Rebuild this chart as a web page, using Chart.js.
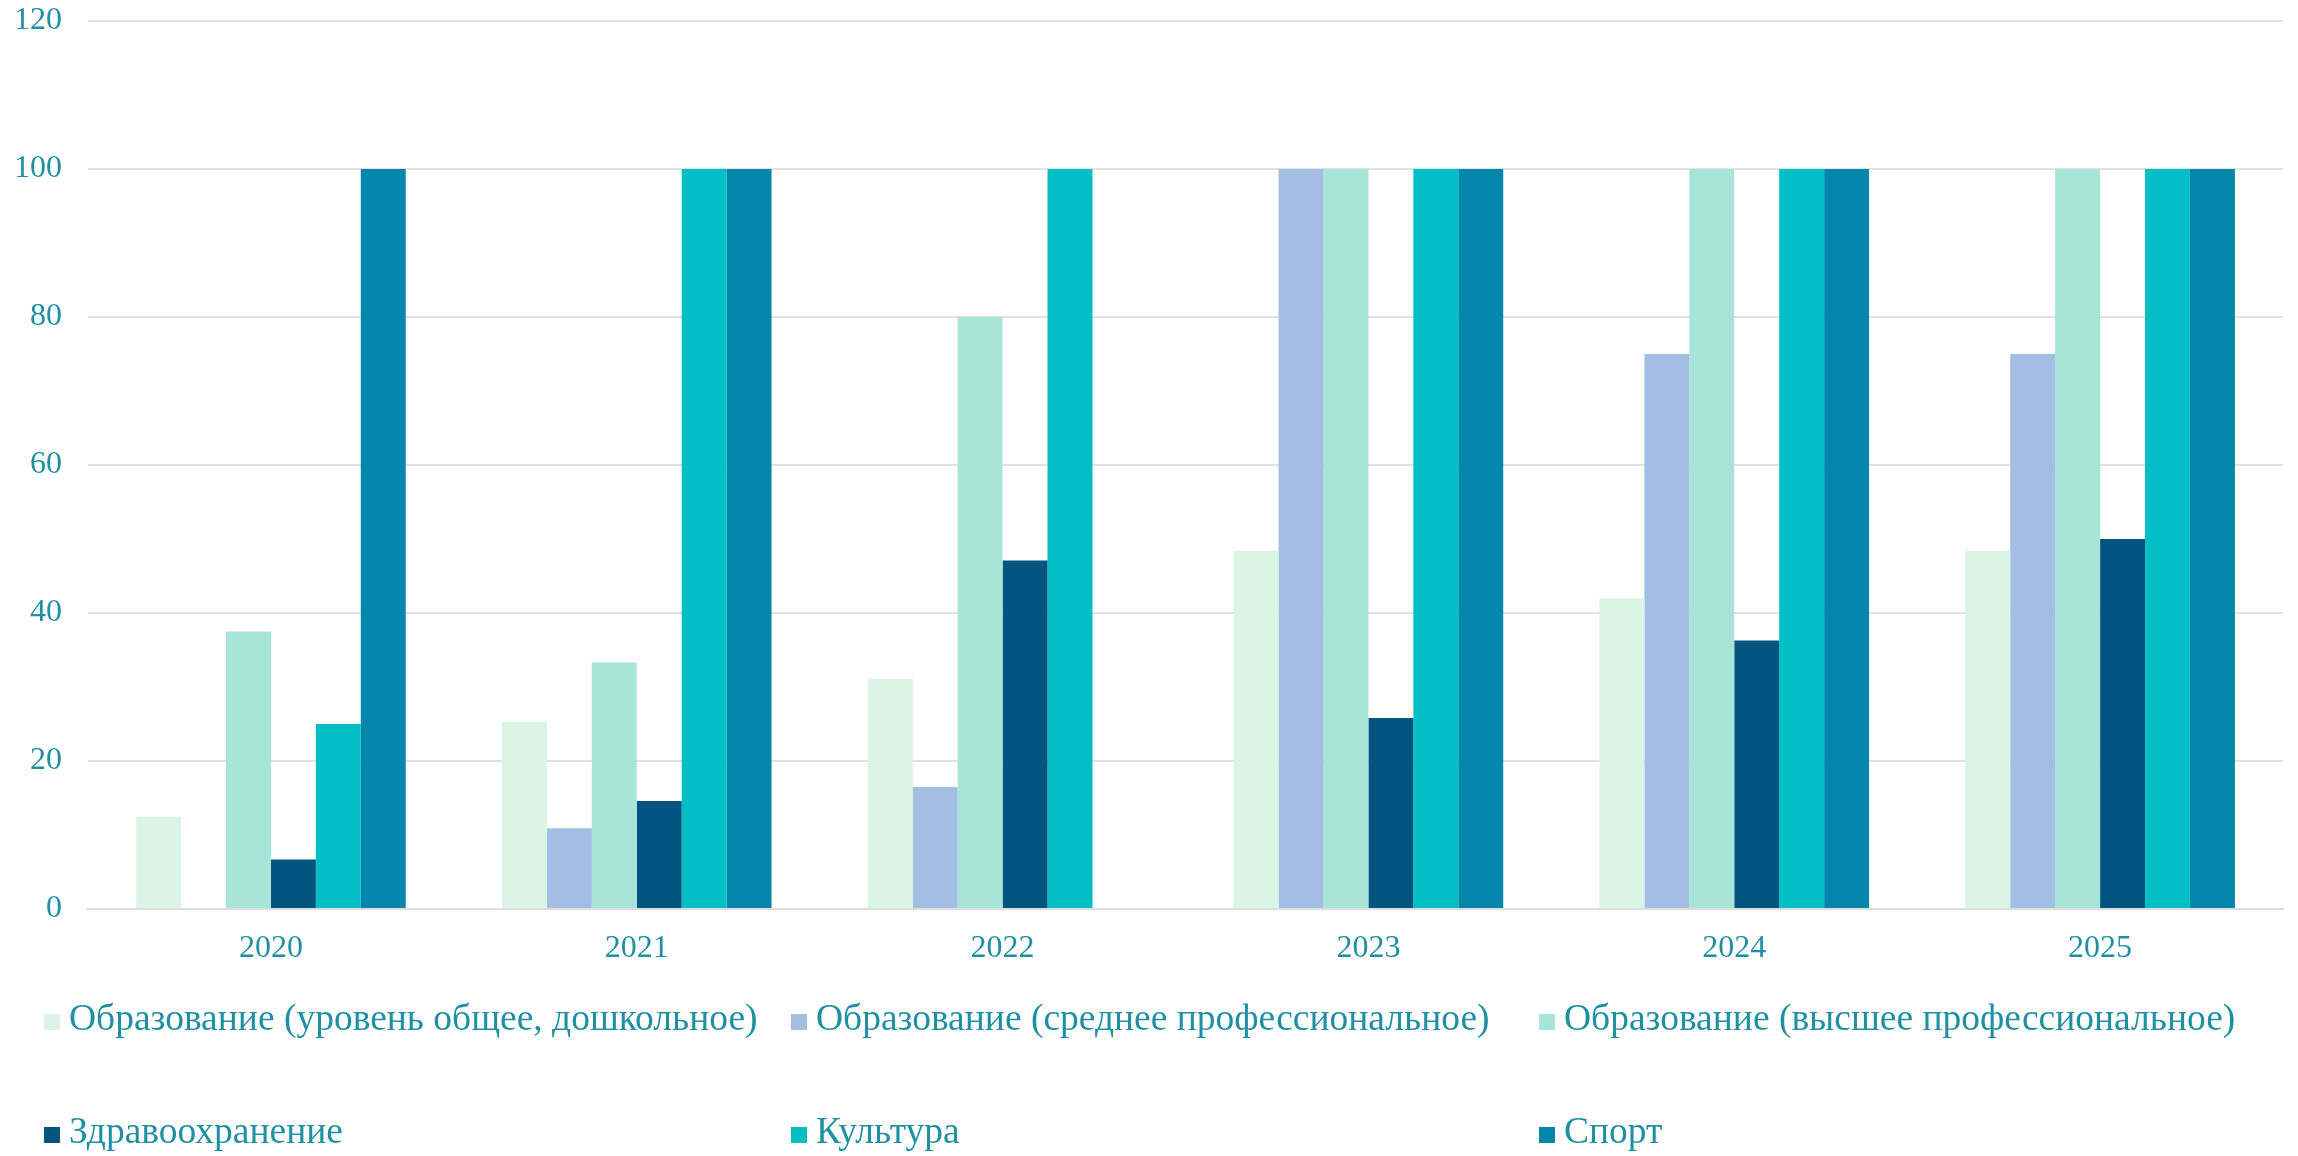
<!DOCTYPE html>
<html>
<head>
<meta charset="utf-8">
<script src="https://cdn.jsdelivr.net/npm/chart.js@4"></script>
<style>
  html, body { margin: 0; padding: 0; background: #ffffff; }
  #wrap { position: relative; width: 2298px; height: 1156px; }
</style>
</head>
<body>
<div id="wrap"><canvas id="c" width="2298" height="1156"></canvas></div>
<script>
const categories = ["2020", "2021", "2022", "2023", "2024", "2025"];
const seriesNames = [
  "Образование (уровень общее, дошкольное)",
  "Образование (среднее профессиональное)",
  "Образование (высшее профессиональное)",
  "Здравоохранение",
  "Культура",
  "Спорт"
];
const eduGeneral = [12.5, 25.3, 31.1, 48.4, 42.0, 48.4];
const eduSecondary = [0, 10.9, 16.5, 100, 75, 75];
const eduHigher = [37.5, 33.3, 80, 100, 100, 100];
const health = [6.7, 14.6, 47.1, 25.8, 36.3, 50];
const culture = [25, 100, 100, 100, 100, 100];
const sport = [100, 100, 0, 100, 100, 100];
const yTicks = [0, 20, 40, 60, 80, 100, 120];

const seriesValues = [eduGeneral, eduSecondary, eduHigher, health, culture, sport];
const colors = ["#dbf5e4", "#a3bee3", "#a7e5d8", "#03547f", "#01bfc4", "#0286ab"];
const textColor = "#1f90a3";
const fontFamily = "'Liberation Serif', 'Times New Roman', serif";

const legendPlugin = {
  id: 'gridLegend',
  afterDraw(chart) {
    const ctx = chart.ctx;
    const colX = [44, 791, 1539];
    const rowY = [1020, 1133];
    const box = 16;
    ctx.save();
    ctx.font = "37.5px " + fontFamily;
    ctx.textBaseline = "middle";
    ctx.textAlign = "left";
    chart.data.datasets.forEach((ds, i) => {
      const col = i % 3, row = Math.floor(i / 3);
      const x = colX[col], y = rowY[row];
      ctx.fillStyle = ds.backgroundColor;
      ctx.fillRect(x, y - box / 2 + 2, box, box);
      ctx.fillStyle = textColor;
      ctx.fillText(ds.label, x + box + 9, y);
    });
    ctx.restore();
  }
};

new Chart(document.getElementById('c'), {
  type: 'bar',
  data: {
    labels: categories,
    datasets: seriesNames.map((name, i) => ({
      label: name,
      data: seriesValues[i],
      backgroundColor: colors[i],
      borderWidth: 0,
      categoryPercentage: 0.737,
      barPercentage: 1.0
    }))
  },
  options: {
    responsive: false,
    animation: false,
    devicePixelRatio: 1,
    layout: { padding: { top: 21, right: 15, bottom: 0, left: 0 } },
    plugins: {
      legend: { display: false },
      tooltip: { enabled: false }
    },
    scales: {
      x: {
        grid: { display: false, drawTicks: false },
        border: { display: true, color: '#dcdcdc', width: 2 },
        ticks: { color: textColor, font: { family: fontFamily, size: 32 }, padding: 20 },
        afterFit(s) { s.height = 247; s.paddingLeft = 0; s.paddingRight = 0; }
      },
      y: {
        min: 0, max: 120,
        afterBuildTicks(s) { s.ticks = yTicks.map(v => ({ value: v })); },
        grid: { color: '#e2e2e2', lineWidth: 2, drawTicks: false },
        border: { display: false },
        ticks: { color: textColor, font: { family: fontFamily, size: 32 }, padding: 26 },
        afterFit(s) { s.width = 88; s.paddingTop = 0; s.paddingBottom = 0; }
      }
    }
  },
  plugins: [legendPlugin]
});
</script>
</body>
</html>
